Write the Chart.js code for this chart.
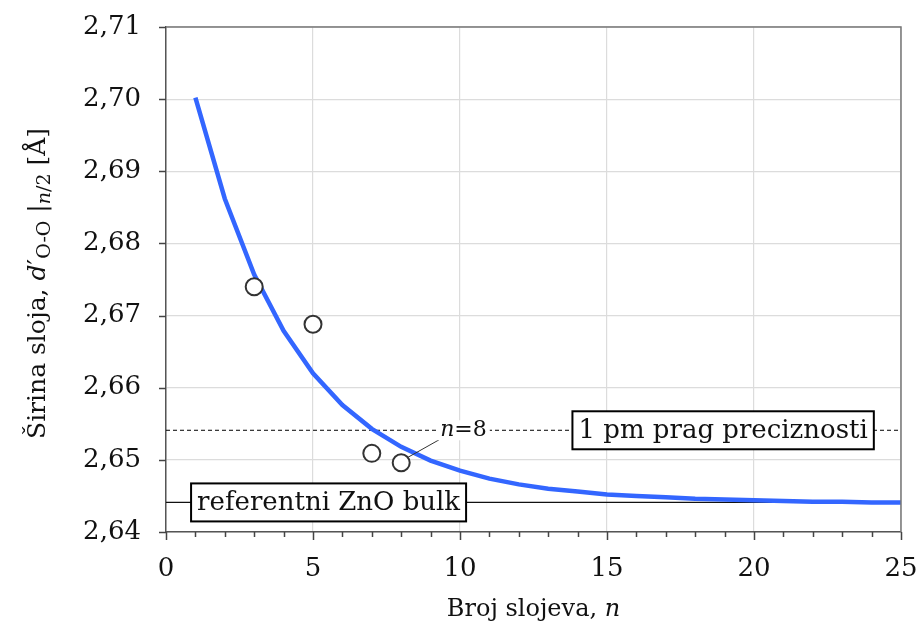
<!DOCTYPE html>
<html>
<head>
<meta charset="utf-8">
<style>
  html, body { margin: 0; padding: 0; background: #fff; }
  #wrap { width: 919px; height: 631px; position: relative; }
</style>
</head>
<body>
<div id="wrap"><canvas id="chart" width="919" height="631"></canvas></div>
<script src="https://cdn.jsdelivr.net/npm/chart.js"></script>
<script>
  // layer count n and fitted layer width d'(O-O) at n/2 [Å]
  const layerN = [1, 2, 3, 4, 5, 6, 7, 8, 9, 10, 11, 12, 13, 14, 15, 16, 17, 18, 19, 20, 21, 22, 23, 24, 25];
  const fitWidth = [2.7002, 2.6862, 2.6757, 2.6679, 2.6620, 2.6576, 2.6543, 2.6518, 2.6499, 2.6485,
                    2.6474, 2.6466, 2.6460, 2.6456, 2.6452, 2.6450, 2.6448, 2.6446, 2.6445, 2.6444,
                    2.6443, 2.6442, 2.6442, 2.6441, 2.6441];
  // calculated points
  const calcN = [3, 5, 7, 8];
  const calcWidth = [2.6740, 2.6688, 2.6509, 2.6496];
  // reference levels
  const bulkWidth = 2.6441;
  const precisionLimit = 2.6541;
  const xRange = [0, 25];
  const yRange = [2.64, 2.71];

  const FONT = '"DejaVu Serif", serif';
  const toXY = (xs, ys) => xs.map((x, i) => ({ x: x, y: ys[i] }));
  const noPad = s => { s.paddingLeft = 0; s.paddingRight = 0; s.paddingTop = 0; s.paddingBottom = 0; };

  const extras = {
    id: 'extras',
    afterDraw(chart) {
      const { ctx, chartArea: a, scales: { x, y } } = chart;
      ctx.save();

      // frame top/right
      ctx.strokeStyle = '#777';
      ctx.lineWidth = 1.5;
      ctx.beginPath();
      ctx.moveTo(a.left, a.top); ctx.lineTo(a.right, a.top); ctx.lineTo(a.right, a.bottom);
      ctx.stroke();

      // ticks
      ctx.strokeStyle = '#444';
      ctx.lineWidth = 1.5;
      ctx.beginPath();
      for (let v = xRange[0]; v <= xRange[1]; v++) {
        const px = Math.round(x.getPixelForValue(v)) + 0.5;
        const len = v % 5 === 0 ? 8 : 5;
        ctx.moveTo(px, a.bottom); ctx.lineTo(px, a.bottom + len);
      }
      y.ticks.forEach(t => {
        const py = Math.round(y.getPixelForValue(t.value)) + 0.5;
        ctx.moveTo(a.left - 7, py); ctx.lineTo(a.left, py);
      });
      ctx.stroke();

      // label boxes on the reference lines
      function box(text, xv, yv) {
        ctx.font = '26px ' + FONT;
        const w = ctx.measureText(text).width;
        const cx = x.getPixelForValue(xv), cy = y.getPixelForValue(yv);
        const bw = w + 12, bh = 38;
        ctx.fillStyle = '#fff';
        ctx.fillRect(cx - bw / 2, cy - bh / 2, bw, bh);
        ctx.strokeStyle = '#000';
        ctx.lineWidth = 2;
        ctx.strokeRect(cx - bw / 2, cy - bh / 2, bw, bh);
        ctx.fillStyle = '#111';
        ctx.textAlign = 'center';
        ctx.textBaseline = 'middle';
        ctx.fillText(text, cx, cy + 1);
      }
      box('1 pm prag preciznosti', 18.95, precisionLimit);
      box('referentni ZnO bulk', 5.53, bulkWidth);

      // n=8 annotation
      const p8x = x.getPixelForValue(calcN[3]), p8y = y.getPixelForValue(calcWidth[3]);
      ctx.strokeStyle = '#333';
      ctx.lineWidth = 1;
      ctx.beginPath();
      ctx.moveTo(p8x + 6, p8y - 5); ctx.lineTo(p8x + 38, p8y - 23);
      ctx.stroke();
      ctx.font = 'italic 22px ' + FONT;
      const nW = ctx.measureText('n').width;
      ctx.font = '22px ' + FONT;
      const restW = ctx.measureText('=8').width;
      const lx = p8x + 39, ly = y.getPixelForValue(precisionLimit);
      ctx.fillStyle = '#fff';
      ctx.fillRect(lx - 3, ly - 10, nW + restW + 6, 20);
      ctx.fillStyle = '#111';
      ctx.textAlign = 'left';
      ctx.textBaseline = 'middle';
      ctx.font = 'italic 22px ' + FONT;
      ctx.fillText('n', lx, ly);
      ctx.font = '22px ' + FONT;
      ctx.fillText('=8', lx + nW, ly);

      // x title
      ctx.font = '24px ' + FONT;
      const t1 = 'Broj slojeva, ';
      const w1 = ctx.measureText(t1).width;
      ctx.font = 'italic 24px ' + FONT;
      const w2 = ctx.measureText('n').width;
      const tx = (a.left + a.right) / 2 - (w1 + w2) / 2;
      ctx.textBaseline = 'middle';
      ctx.font = '24px ' + FONT;
      ctx.fillText(t1, tx, 610);
      ctx.font = 'italic 24px ' + FONT;
      ctx.fillText('n', tx + w1, 610);

      // y title, rotated, with subscripts
      const parts = [
        { t: 'Širina sloja, ', f: '25px ' + FONT, dy: 0 },
        { t: 'd', f: 'italic 25px ' + FONT, dy: 0 },
        { t: '′', f: '25px ' + FONT, dy: 0 },
        { t: 'O-O', f: '19px ' + FONT, dy: 7 },
        { t: ' |', f: '25px ' + FONT, dy: 0 },
        { t: 'n', f: 'italic 19px ' + FONT, dy: 7 },
        { t: '/2', f: '19px ' + FONT, dy: 7 },
        { t: ' [Å]', f: '25px ' + FONT, dy: 0 }
      ];
      let total = 0;
      parts.forEach(p => { ctx.font = p.f; p.w = ctx.measureText(p.t).width; total += p.w; });
      ctx.translate(38, (a.top + a.bottom) / 2 + 4);
      ctx.rotate(-Math.PI / 2);
      let cur = -total / 2;
      ctx.textAlign = 'left';
      ctx.textBaseline = 'middle';
      parts.forEach(p => {
        ctx.font = p.f;
        ctx.fillText(p.t, cur, p.dy);
        cur += p.w;
      });
      ctx.restore();
    }
  };

  new Chart(document.getElementById('chart'), {
    type: 'scatter',
    data: {
      datasets: [
        {
          label: 'calc',
          data: toXY(calcN, calcWidth),
          pointRadius: 8.5,
          pointBorderWidth: 2,
          pointBorderColor: '#333',
          pointBackgroundColor: '#fff',
          showLine: false
        },
        {
          label: 'fit',
          data: toXY(layerN, fitWidth),
          showLine: true,
          borderColor: '#3366ff',
          borderWidth: 4.5,
          pointRadius: 0,
          tension: 0
        },
        {
          label: 'precision',
          data: toXY(xRange, [precisionLimit, precisionLimit]),
          showLine: true,
          borderColor: '#000',
          borderWidth: 1,
          borderDash: [4, 3],
          pointRadius: 0
        },
        {
          label: 'bulk',
          data: toXY(xRange, [bulkWidth, bulkWidth]),
          showLine: true,
          borderColor: '#111',
          borderWidth: 1.2,
          pointRadius: 0
        }
      ]
    },
    options: {
      responsive: false,
      animation: false,
      layout: { padding: { top: 27, right: 18, left: 0, bottom: 0 } },
      plugins: { legend: { display: false }, tooltip: { enabled: false } },
      scales: {
        x: {
          type: 'linear',
          min: xRange[0],
          max: xRange[1],
          afterFit: s => { s.height = 99; noPad(s); },
          border: { display: true, color: '#555', width: 1.5 },
          grid: {
            drawTicks: false,
            color: c => (c.tick && c.tick.value % 5 === 0 ? '#dcdcdc' : 'rgba(0,0,0,0)'),
            lineWidth: 1.2
          },
          ticks: {
            stepSize: 1,
            autoSkip: false,
            maxRotation: 0,
            padding: 22,
            color: '#111',
            font: { family: FONT, size: 26 },
            callback: v => (v % 5 === 0 ? String(v) : '')
          }
        },
        y: {
          min: yRange[0],
          max: yRange[1],
          afterFit: s => { s.width = 166; noPad(s); },
          border: { display: true, color: '#555', width: 1.5 },
          grid: { drawTicks: false, color: '#dcdcdc', lineWidth: 1.2 },
          ticks: {
            stepSize: 0.01,
            padding: 25,
            color: '#111',
            font: { family: FONT, size: 26 },
            callback: v => v.toFixed(2).replace('.', ',')
          }
        }
      }
    },
    plugins: [extras]
  });
</script>
</body>
</html>
